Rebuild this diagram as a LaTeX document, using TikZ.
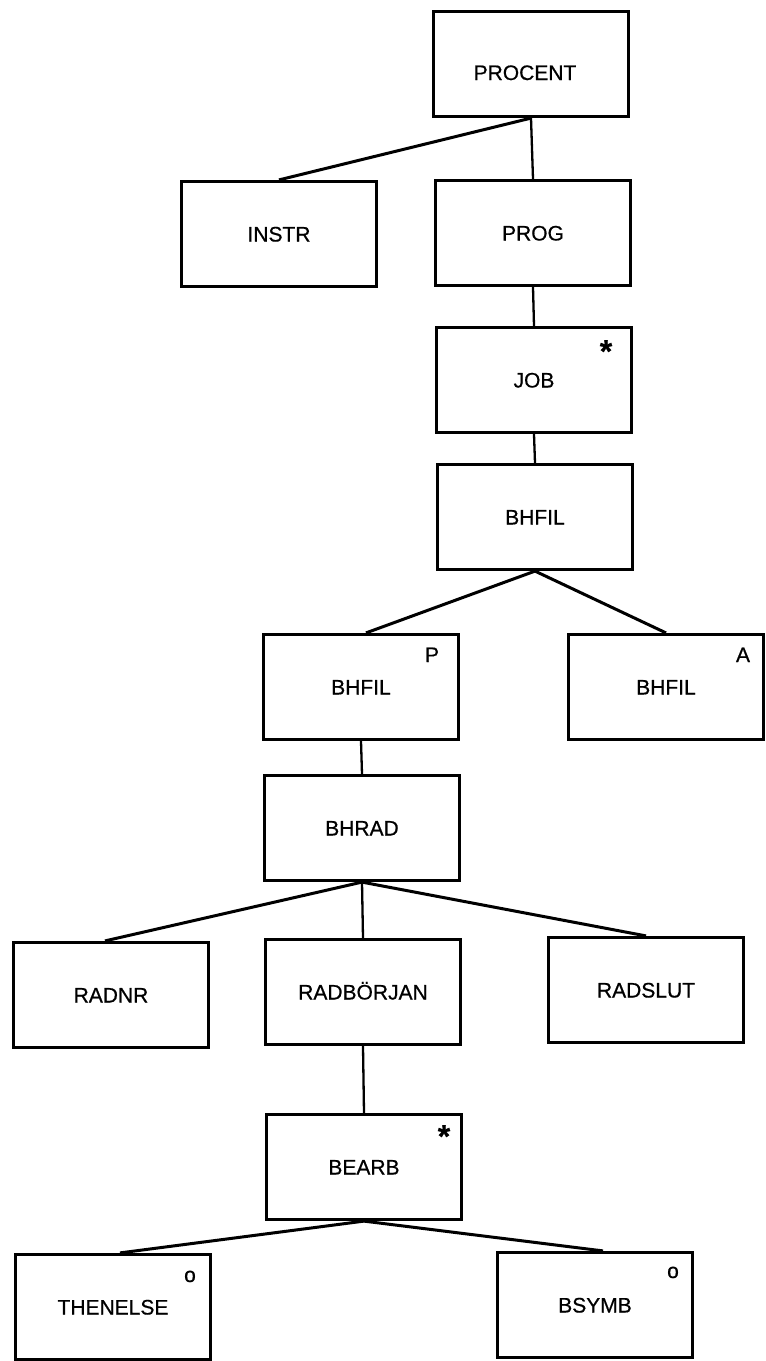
\documentclass[tikz,border=0pt]{standalone}
\usepackage{fontspec}
\setmainfont[FakeBold=0.6]{Liberation Sans}
\begin{document}
\begin{tikzpicture}[x=1pt,y=-1pt,
  box/.style={draw, line width=3.2pt, minimum width=195pt, minimum height=105pt, inner sep=0pt,
    font=\fontsize{21}{25}\selectfont, text height=15pt, text depth=0pt},
  link/.style={line width=3pt},
  vlink/.style={line width=2.3pt},
  tag/.style={inner sep=0pt, font=\fontsize{21}{25}\selectfont, anchor=base},
  star/.style={inner sep=0pt, font=\fontsize{32}{32}\selectfont\bfseries, anchor=north}]
\useasboundingbox (0,0) rectangle (766,1361);
% boxes
\node[box] (procent) at (531,64) {};
\node[inner sep=0pt, font=\fontsize{21}{25}\selectfont, text height=15pt, text depth=0pt] (procenttext) at (525,72.5) {PROCENT};
\node[box] (instr) at (279,234) {INSTR};
\node[box] (prog) at (533,233) {PROG};
\node[box] (job) at (534,380) {JOB};
\node[box] (bhfil) at (535,517) {BHFIL};
\node[box] (bhfilp) at (361,687) {BHFIL};
\node[box] (bhfila) at (666,687) {BHFIL};
\node[box] (bhrad) at (362,828) {BHRAD};
\node[box] (radnr) at (111,995) {RADNR};
\node[box] (radb) at (363,992) {RADBÖRJAN};
\node[box] (radslut) at (646,990) {RADSLUT};
\node[box] (bearb) at (364,1167) {BEARB};
\node[box] (thenelse) at (113,1307) {THENELSE};
\node[box] (bsymb) at (595,1305) {BSYMB};
% tags
\node[star] (jobstar) at (606,340) {*};
\node[star] (bearbstar) at (444,1125) {*};
\node[tag] (ptag) at (432,662) {P};
\node[tag] (atag) at (743,662) {A};
\node[tag] (otag1) at (190,1282) {o};
\node[tag] (otag2) at (673,1278) {o};
% connectors
\draw[link] (procent.south) -- (instr.north);
\draw[vlink] (procent.south) -- (prog.north);
\draw[vlink] (prog.south) -- (job.north);
\draw[vlink] (job.south) -- (bhfil.north);
\draw[link] (bhfil.south) -- ([xshift=5pt]bhfilp.north);
\draw[link] (bhfil.south) -- (bhfila.north);
\draw[vlink] (bhfilp.south) -- (bhrad.north);
\draw[link] (bhrad.south) -- ([xshift=-6pt]radnr.north);
\draw[vlink] (bhrad.south) -- (radb.north);
\draw[link] (bhrad.south) -- (radslut.north);
\draw[vlink] (radb.south) -- (bearb.north);
\draw[link] (bearb.south) -- ([xshift=7pt]thenelse.north);
\draw[link] (bearb.south) -- ([xshift=8pt]bsymb.north);
\end{tikzpicture}
\end{document}
